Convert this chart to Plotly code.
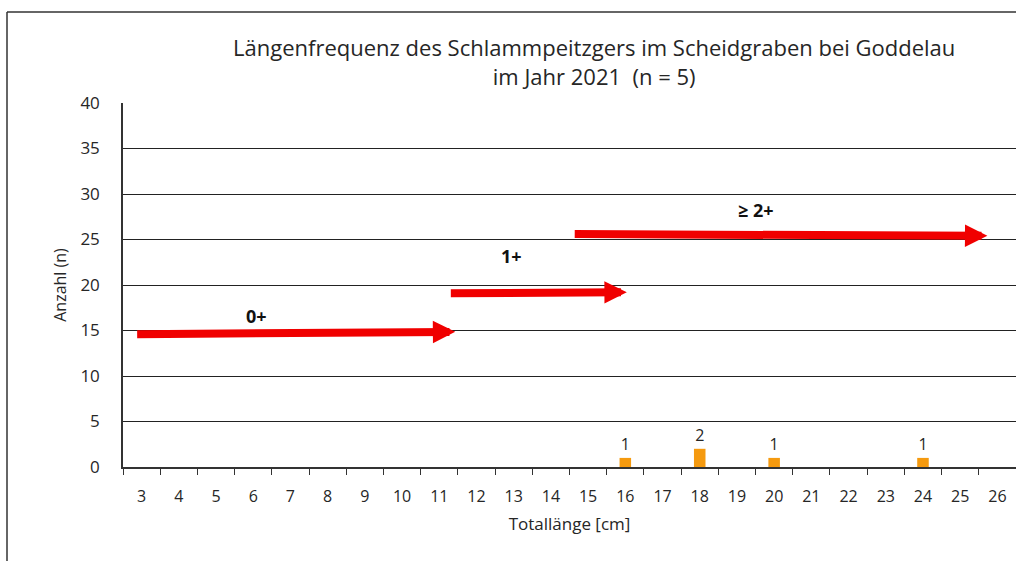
import plotly.graph_objects as go

# ---- data ----
lengths = [str(v) for v in range(3, 27)]          # Totallänge [cm] categories
counts_x = ["16", "18", "20", "24"]
counts_y = [1, 2, 1, 1]

# age-class arrows (category index positions, y values)
arrow_labels = ["0+", "1+", "≥ 2+"]
arrow_start_x = [-0.16, 8.27, 11.6]
arrow_end_x = [8.43, 13.04, 22.73]
arrow_start_y = [14.6, 19.1, 25.6]
arrow_end_y = [14.85, 19.2, 25.4]
label_x = [3.09, 9.93, 16.5]
label_y = [16.6, 23.2, 28.2]

y_ticks = [0, 5, 10, 15, 20, 25, 30, 35, 40]

FONT = "Open Sans"
TXT = "#262626"

# plot-area geometry in pixels
L, T, R, B = 123, 103, 1016, 467
PW, PH = R - L, B - T

fig = go.Figure()
fig.add_trace(go.Bar(
    x=counts_x, y=counts_y, width=0.31,
    marker=dict(color="#F59A0F", line=dict(width=0)),
    text=[str(v) for v in counts_y], textposition="outside",
    textfont=dict(family=FONT, size=16, color=TXT),
    cliponaxis=False, showlegend=False,
))

for i in range(len(arrow_labels)):
    fig.add_annotation(
        x=arrow_end_x[i], y=arrow_end_y[i], xref="x", yref="y",
        ax=arrow_start_x[i], ay=arrow_start_y[i], axref="x", ayref="y",
        showarrow=True, arrowhead=2, arrowwidth=8, arrowsize=0.56,
        arrowcolor="#F00000", text="", standoff=0, startstandoff=0,
    )
    fig.add_annotation(
        x=label_x[i], y=label_y[i], xref="x", yref="y",
        text="<b>" + arrow_labels[i] + "</b>", showarrow=False,
        font=dict(family=FONT, size=18, color="#111111"),
    )

# title
fig.add_annotation(
    x=(594 - L) / PW, y=(B - 62) / PH, xref="paper", yref="paper",
    xanchor="center", yanchor="middle",
    text="Längenfrequenz des Schlammpeitzgers im Scheidgraben bei Goddelau<br>im Jahr 2021  (n = 5)",
    showarrow=False, align="center",
    font=dict(family=FONT, size=22, color=TXT),
)

# outer frame (left and top edges visible)
fig.add_shape(type="line", xref="paper", yref="paper",
              x0=(7 - L) / PW, x1=(7 - L) / PW,
              y0=(B - 12) / PH, y1=(B - 570) / PH,
              line=dict(color="#333333", width=1.5))
fig.add_shape(type="line", xref="paper", yref="paper",
              x0=(7 - L) / PW, x1=1.05,
              y0=(B - 12) / PH, y1=(B - 12) / PH,
              line=dict(color="#333333", width=1.5))

fig.update_layout(
    width=1016, height=561,
    margin=dict(l=L, r=1016 - R, t=T, b=561 - B, autoexpand=False),
    paper_bgcolor="white", plot_bgcolor="white",
    bargap=0.69,
    font=dict(family=FONT, color=TXT),
)
fig.update_xaxes(
    type="category", categoryorder="array", categoryarray=lengths,
    range=[-0.5, 23.5], tickson="boundaries", ticks="outside", ticklen=6,
    tickcolor="#333333", showline=True, linecolor="#333333", linewidth=1.5,
    showgrid=False, tickfont=dict(family=FONT, size=16, color=TXT),
    ticklabelstandoff=14,
    title=dict(text="Totallänge [cm]", font=dict(family=FONT, size=17, color=TXT), standoff=12),
)
fig.update_yaxes(
    range=[0, 40], tickvals=y_ticks, showgrid=True, gridcolor="#222222", gridwidth=1,
    showline=True, linecolor="#333333", linewidth=1.5, ticks="", zeroline=False,
    tickfont=dict(family=FONT, size=17, color=TXT), ticklabelstandoff=18,
    title=dict(text="Anzahl (n)", font=dict(family=FONT, size=16, color=TXT), standoff=10),
)

fig.write_html(
    "out.html",
    config={"displayModeBar": False},
    post_script="document.body.style.margin='0';document.body.style.overflow='hidden';",
)
